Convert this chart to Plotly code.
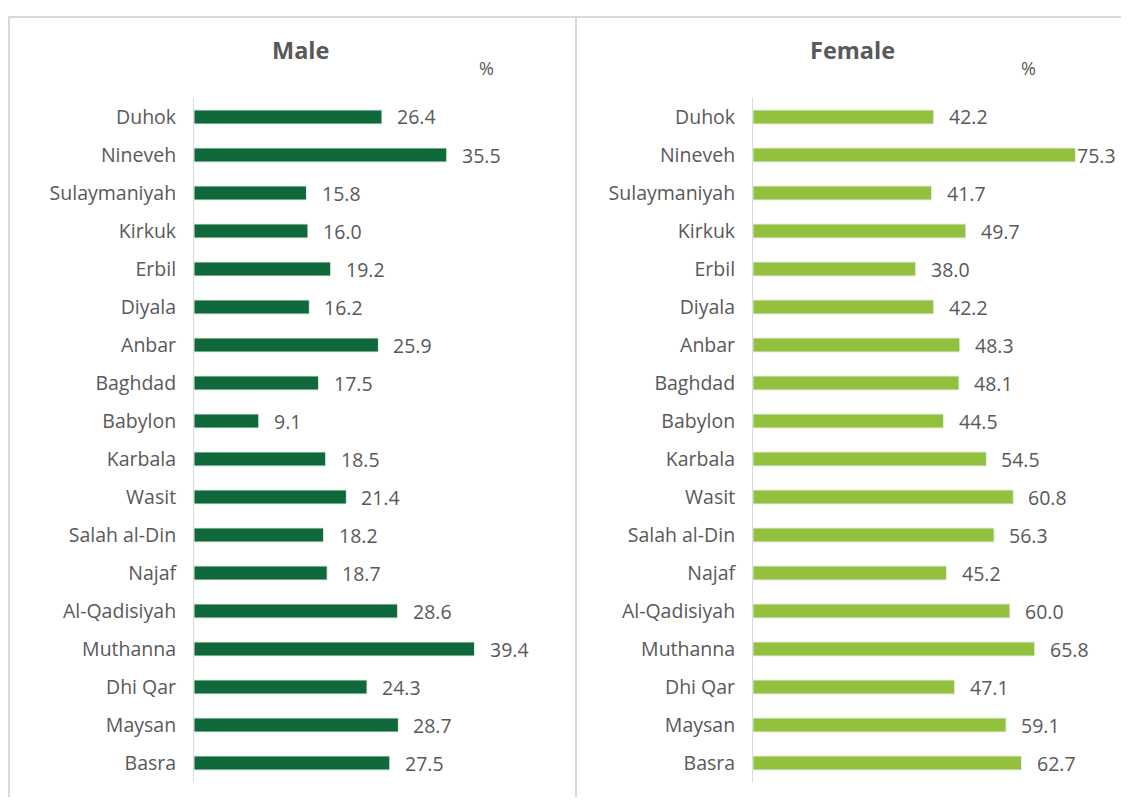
import plotly.graph_objects as go
from plotly.subplots import make_subplots

governorates = ["Duhok", "Nineveh", "Sulaymaniyah", "Kirkuk", "Erbil", "Diyala", "Anbar",
                "Baghdad", "Babylon", "Karbala", "Wasit", "Salah al-Din", "Najaf",
                "Al-Qadisiyah", "Muthanna", "Dhi Qar", "Maysan", "Basra"]
male = [26.4, 35.5, 15.8, 16.0, 19.2, 16.2, 25.9, 17.5, 9.1, 18.5, 21.4, 18.2, 18.7,
        28.6, 39.4, 24.3, 28.7, 27.5]
female = [42.2, 75.3, 41.7, 49.7, 38.0, 42.2, 48.3, 48.1, 44.5, 54.5, 60.8, 56.3, 45.2,
          60.0, 65.8, 47.1, 59.1, 62.7]

# page body has an 8px margin, so the figure is drawn a little smaller
W, H = 1113, 789
OFF = 8
TXT = "#595959"
FONT = "Open Sans"


def px_x(p):
    return (p - OFF) / W


def px_y(p):
    return 1 - (p - OFF) / H


fig = make_subplots(rows=1, cols=2)

panels = [
    (male, "#10693a", "x", "y", 1, 51.4, [194, 560]),
    (female, "#93c13e", "x2", "y2", 2, 85.7, [753, 1120]),
]

for vals, col, xref, yref, c, hi, xd in panels:
    fig.add_trace(go.Bar(
        y=governorates, x=vals, orientation="h",
        marker=dict(color=col, line=dict(color="#e8f0e8", width=1)),
        showlegend=False, hoverinfo="skip"), row=1, col=c)
    fig.update_xaxes(range=[0, hi], domain=[px_x(xd[0]), px_x(xd[1])], visible=False, row=1, col=c)
    fig.update_yaxes(autorange="reversed", domain=[px_y(782), px_y(98)],
                     showline=True, linecolor="#d9d9d9", linewidth=1,
                     showgrid=False, ticks="", ticklabelstandoff=13,
                     tickfont=dict(family=FONT, size=19.5, color=TXT), row=1, col=c)
    for g, v in zip(governorates, vals):
        fig.add_annotation(x=v, y=g, xref=xref, yref=yref,
                           text=f"{v:.1f}", showarrow=False, xanchor="left",
                           xshift=0 if v > 70 else 13,
                           font=dict(family=FONT, size=19.5, color=TXT))

# panel titles and unit marks
for px, title in ((300, "Male"), (852, "Female")):
    fig.add_annotation(x=px_x(px), y=px_y(50), xref="paper", yref="paper", text=f"<b>{title}</b>",
                       xanchor="center", yanchor="middle",
                       showarrow=False, font=dict(family=FONT, size=23.5, color=TXT))
for px in (486, 1028):
    fig.add_annotation(x=px_x(px), y=px_y(68), xref="paper", yref="paper", text="%",
                       xanchor="center", yanchor="middle",
                       showarrow=False, font=dict(family=FONT, size=18, color=TXT))

# frame lines
frame = dict(color="#d9d9d9", width=2)
fig.add_shape(type="line", xref="paper", yref="paper", x0=px_x(8), x1=px_x(1129),
              y0=px_y(17), y1=px_y(17), line=frame)
fig.add_shape(type="line", xref="paper", yref="paper", x0=px_x(9), x1=px_x(9),
              y0=px_y(805), y1=px_y(17), line=frame)
fig.add_shape(type="line", xref="paper", yref="paper", x0=px_x(576), x1=px_x(576),
              y0=px_y(805), y1=px_y(17), line=frame)

fig.update_layout(width=W, height=H, margin=dict(l=0, r=0, t=0, b=0),
                  plot_bgcolor="white", paper_bgcolor="white", bargap=0.63,
                  font=dict(family=FONT, color=TXT))

fig.write_html("out.html")
